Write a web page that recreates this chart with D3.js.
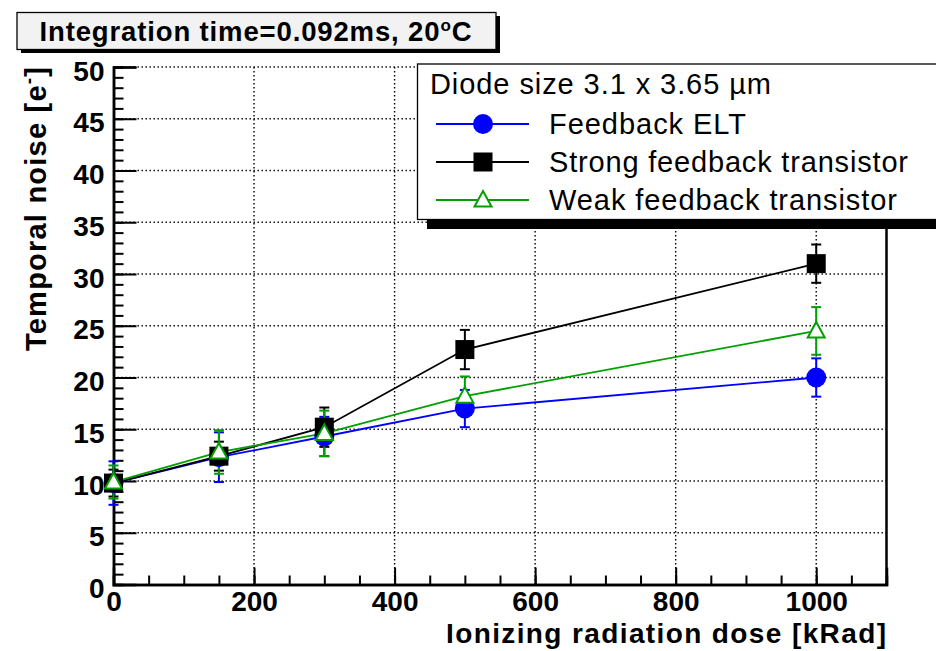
<!DOCTYPE html>
<html>
<head>
<meta charset="utf-8">
<script src="https://cdn.jsdelivr.net/npm/d3@7"></script>
<style>
  body { margin: 0; background: #fff; }
  svg { display: block; font-family: "Liberation Sans", Arial, Helvetica, sans-serif; }
</style>
</head>
<body>
<svg id="chart" width="936" height="651"></svg>
<script>
// dose points [kRad]
const doses = [0, 150, 300, 500, 1000]
// temporal noise [e-] and errors per series
const eltNoise = [9.8, 12.3, 14.3, 17.0, 20.0]
const eltErr = [2.1, 2.4, 1.9, 1.8, 1.85]
const strongNoise = [9.8, 12.4, 15.2, 22.7, 31.0]
const strongErr = [1.3, 1.4, 1.9, 1.9, 1.85]
const weakNoise = [9.9, 12.8, 14.6, 18.2, 24.5]
const weakErr = [1.6, 2.1, 2.2, 1.9, 2.3]

const seriesNames = ['Feedback ELT', 'Strong feedback transistor', 'Weak feedback transistor']
const xTicks = [0, 200, 400, 600, 800, 1000]
const yTicks = [0, 5, 10, 15, 20, 25, 30, 35, 40, 45, 50]

const series = [
  { name: seriesNames[0], y: eltNoise, e: eltErr, color: '#0000ff', marker: 'circle', w: 197 },
  { name: seriesNames[1], y: strongNoise, e: strongErr, color: '#000000', marker: 'square', w: 359 },
  { name: seriesNames[2], y: weakNoise, e: weakErr, color: '#00a000', marker: 'triangle', w: 348 }
]

const svg = d3.select('#chart')
const padL = 113.5, padR = 886.5, padT = 67, padB = 584.5

const x = d3.scaleLinear().domain([0, 1100]).range([padL, padR])
const y = d3.scaleLinear().domain([0, 50]).range([padB, padT])

// grid
const grid = svg.append('g').attr('stroke', '#000').attr('stroke-width', 1.4).attr('stroke-dasharray', '1.4,2.6')
grid.selectAll('.gx').data(xTicks.filter(d => d > 0)).enter().append('line')
  .attr('x1', d => x(d)).attr('x2', d => x(d)).attr('y1', padT).attr('y2', padB)
grid.selectAll('.gy').data(yTicks.filter(d => d > 0)).enter().append('line')
  .attr('x1', padL).attr('x2', padR).attr('y1', d => y(d)).attr('y2', d => y(d))

// axes, ROOT style ticks pointing inward
const yMinor = d3.range(0, 51, 1)
const xMinor = d3.range(0, 1101, 50)
svg.append('g').attr('transform', `translate(${padL},0)`)
  .call(d3.axisLeft(y).tickValues(yMinor).tickSize(-10).tickFormat(''))
const yAxis = svg.append('g').attr('transform', `translate(${padL},0)`)
  .call(d3.axisLeft(y).tickValues(yTicks).tickSize(-23).tickPadding(9).tickFormat(d3.format('d')))
svg.append('g').attr('transform', `translate(0,${padB})`)
  .call(d3.axisBottom(x).tickValues(xMinor).tickSize(-9).tickFormat(''))
const xAxis = svg.append('g').attr('transform', `translate(0,${padB})`)
  .call(d3.axisBottom(x).tickValues(xTicks).tickSize(-17).tickPadding(7).tickFormat(d3.format('d')))

svg.selectAll('.domain').attr('stroke', '#000').attr('stroke-width', 2.5)
svg.selectAll('.tick line').attr('stroke', '#000').attr('stroke-width', 2)
svg.selectAll('.tick text').attr('fill', '#000').style('font-size', '28px').style('font-weight', 'bold')
yAxis.selectAll('.tick text').attr('dy', '0.47em')

// right frame line
svg.append('line').attr('x1', padR).attr('x2', padR).attr('y1', padT).attr('y2', padB + 1)
  .attr('stroke', '#000').attr('stroke-width', 2.5)

// series lines
const line = d3.line().x(d => x(d[0])).y(d => y(d[1]))
series.forEach(s => {
  const pts = doses.map((d, i) => [d, s.y[i]])
  const g = svg.append('g')
  g.append('path').datum(pts).attr('d', line).attr('fill', 'none')
    .attr('stroke', s.color).attr('stroke-width', 1.8)
  // error bars
  const eb = g.selectAll('.eb').data(doses.map((d, i) => [d, s.y[i], s.e[i]])).enter().append('g')
    .attr('stroke', s.color).attr('stroke-width', 2)
  eb.append('line').attr('x1', d => x(d[0])).attr('x2', d => x(d[0]))
    .attr('y1', d => y(d[1] - d[2])).attr('y2', d => y(d[1] + d[2]))
  eb.append('line').attr('x1', d => x(d[0]) - 5).attr('x2', d => x(d[0]) + 5)
    .attr('y1', d => y(d[1] - d[2])).attr('y2', d => y(d[1] - d[2]))
  eb.append('line').attr('x1', d => x(d[0]) - 5).attr('x2', d => x(d[0]) + 5)
    .attr('y1', d => y(d[1] + d[2])).attr('y2', d => y(d[1] + d[2]))
  s.pts = pts
})

function drawMarker(g, type, color, cx, cy) {
  if (type === 'circle') {
    g.append('circle').attr('cx', cx).attr('cy', cy).attr('r', 10).attr('fill', color)
  } else if (type === 'square') {
    g.append('rect').attr('x', cx - 9.5).attr('y', cy - 9.5).attr('width', 19).attr('height', 19).attr('fill', color)
  } else {
    g.append('path').attr('d', `M${cx},${cy - 9}L${cx + 8.5},${cy + 6.5}L${cx - 8.5},${cy + 6.5}Z`)
      .attr('fill', '#fff').attr('stroke', color).attr('stroke-width', 2)
  }
}
// markers drawn after all lines
series.forEach(s => {
  const g = svg.append('g')
  s.pts.forEach(p => drawMarker(g, s.marker, s.color, x(p[0]), y(p[1])))
})

// axis titles
svg.append('text').attr('x', 446).attr('y', 643)
  .attr('textLength', 440).attr('lengthAdjust', 'spacing')
  .style('font-size', '28px').style('font-weight', 'bold').text('Ionizing radiation dose [kRad]')
const yt = svg.append('text').attr('transform', 'translate(46,351) rotate(-90)')
  .attr('textLength', 284).attr('lengthAdjust', 'spacing')
  .style('font-size', '29px').style('font-weight', 'bold')
yt.append('tspan').text('Temporal noise [e')
yt.append('tspan').attr('dy', -11).style('font-size', '19px').text('-')
yt.append('tspan').attr('dy', 11).text(']')

// title box
svg.append('rect').attr('x', 21).attr('y', 16).attr('width', 479).attr('height', 37).attr('fill', '#000')
svg.append('rect').attr('x', 17).attr('y', 12.5).attr('width', 479).attr('height', 37)
  .attr('fill', '#f2f2f2').attr('stroke', '#000').attr('stroke-width', 1.3)
const tt = svg.append('text').attr('x', 39.5).attr('y', 40.5)
  .attr('textLength', 432).attr('lengthAdjust', 'spacing')
  .style('font-size', '27.5px').style('font-weight', 'bold')
tt.append('tspan').text('Integration time=0.092ms, 20')
tt.append('tspan').attr('dy', -10).style('font-size', '17px').text('o')
tt.append('tspan').attr('dy', 10).text('C')

// legend box
const lg = svg.append('g')
lg.append('rect').attr('x', 427).attr('y', 72).attr('width', 520).attr('height', 157).attr('fill', '#000')
lg.append('rect').attr('x', 417.5).attr('y', 64).attr('width', 530).attr('height', 155.5)
  .attr('fill', '#fff').attr('stroke', '#000').attr('stroke-width', 1.3)
lg.append('text').attr('x', 430).attr('y', 93.5).attr('textLength', 341).attr('lengthAdjust', 'spacing')
  .style('font-size', '29px').text('Diode size 3.1 x 3.65 \u00b5m')
series.forEach((s, i) => {
  const ly = 124 + i * 38
  lg.append('line').attr('x1', 436).attr('x2', 529).attr('y1', ly).attr('y2', ly)
    .attr('stroke', s.color).attr('stroke-width', 1.8)
  drawMarker(lg, s.marker, s.color, 483, ly)
  lg.append('text').attr('x', 549).attr('y', ly + 10).attr('textLength', s.w).attr('lengthAdjust', 'spacing')
    .style('font-size', '29px').text(s.name)
})
</script>
</body>
</html>
